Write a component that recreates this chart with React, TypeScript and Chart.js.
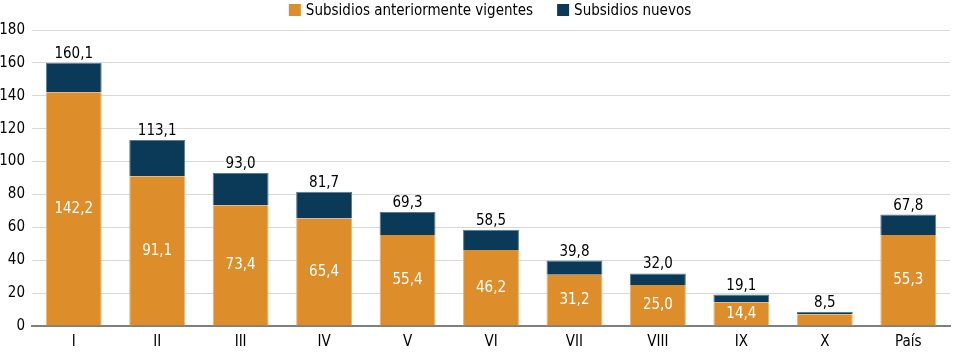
import React, { useEffect, useRef } from "react";
import { Chart, registerables } from "chart.js";

Chart.register(...registerables);

const categories = ["I", "II", "III", "IV", "V", "VI", "VII", "VIII", "IX", "X", "País"];
const previousSubsidies = [142.2, 91.1, 73.4, 65.4, 55.4, 46.2, 31.2, 25.0, 14.4, 7.2, 55.3];
const newSubsidies = [17.9, 22.0, 19.6, 16.3, 13.9, 12.3, 8.6, 7.0, 4.7, 1.3, 12.5];
const totals = [160.1, 113.1, 93.0, 81.7, 69.3, 58.5, 39.8, 32.0, 19.1, 8.5, 67.8];
const yTicks = [0, 20, 40, 60, 80, 100, 120, 140, 160, 180];
const seriesNames = ["Subsidios anteriormente vigentes", "Subsidios nuevos"];

const FONT = "'Liberation Sans Narrow', 'DejaVu Sans Condensed', sans-serif";
const ORANGE = "#DE8D2B";
const NAVY = "#0B3A58";
const FS = 14;

const fmt = (v: number) => v.toFixed(1).replace(".", ",");

const labelPlugin = {
  id: "barLabels",
  afterDatasetsDraw(chart: any) {
    const ctx = chart.ctx;
    const meta0 = chart.getDatasetMeta(0);
    const meta1 = chart.getDatasetMeta(1);
    ctx.save();
    ctx.font = `${FS + 1}px ${FONT}`;
    ctx.textAlign = "center";
    meta0.data.forEach((bar: any, i: number) => {
      if (previousSubsidies[i] >= 10) {
        ctx.fillStyle = "#ffffff";
        ctx.textBaseline = "middle";
        ctx.fillText(fmt(previousSubsidies[i]), bar.x, (bar.y + bar.base) / 2);
      }
    });
    meta1.data.forEach((bar: any, i: number) => {
      ctx.fillStyle = "#000000";
      ctx.textBaseline = "alphabetic";
      ctx.fillText(fmt(totals[i]), bar.x, bar.y - 5);
    });
    ctx.restore();
  },
  afterDraw(chart: any) {
    // legend
    const ctx = chart.ctx;
    ctx.save();
    ctx.font = `${FS + 1}px ${FONT}`;
    ctx.textBaseline = "middle";
    ctx.textAlign = "left";
    const colors = [ORANGE, NAVY];
    const box = 12;
    const gapBoxText = 5;
    const gapItems = 24;
    const widths = seriesNames.map((n) => box + gapBoxText + ctx.measureText(n).width);
    const total = widths[0] + widths[1] + gapItems;
    let x = (chart.width - total) / 2 + 12;
    const cy = 10;
    seriesNames.forEach((n, i) => {
      ctx.fillStyle = colors[i];
      ctx.fillRect(x, cy - box / 2, box, box);
      ctx.fillStyle = "#000";
      ctx.fillText(n, x + box + gapBoxText, cy + 1);
      x += widths[i] + gapItems;
    });
    ctx.restore();
  },
};

export default function App() {
  const ref = useRef<HTMLCanvasElement | null>(null);
  useEffect(() => {
    if (!ref.current) return;
    const chart = new Chart(ref.current, {
      type: "bar",
      data: {
        labels: categories,
        datasets: [
          {
            label: seriesNames[0],
            data: previousSubsidies,
            backgroundColor: ORANGE,
            borderColor: "#EDB377",
            borderWidth: { left: 1, right: 1, top: 0, bottom: 0 } as any,
            borderSkipped: false,
            categoryPercentage: 0.67,
            barPercentage: 1,
          },
          {
            label: seriesNames[1],
            data: newSubsidies,
            backgroundColor: NAVY,
            borderColor: "#5B7A92",
            borderWidth: 1,
            borderSkipped: "bottom",
            categoryPercentage: 0.67,
            barPercentage: 1,
          },
        ],
      },
      options: {
        animation: false,
        responsive: false,
        maintainAspectRatio: false,
        layout: { padding: { left: 0, right: 6, top: 30, bottom: 0 } },
        plugins: {
          legend: { display: false },
          tooltip: { enabled: false },
        },
        scales: {
          x: {
            stacked: true,
            grid: { display: false, drawTicks: false },
            border: { display: true, color: "#7f7f7f", width: 2 },
            ticks: { font: { family: FONT, size: FS + 1 }, color: "#000", padding: 7 },
            afterFit: (axis: any) => {
              axis.height = 28;
            },
          },
          y: {
            stacked: true,
            min: 0,
            max: 180,
            afterBuildTicks: (axis: any) => {
              axis.ticks = yTicks.map((v) => ({ value: v }));
            },
            afterFit: (axis: any) => {
              axis.width = 32;
            },
            grid: { color: "#d9d9d9", lineWidth: 1, drawTicks: false },
            border: { display: false },
            ticks: { font: { family: FONT, size: FS + 1 }, color: "#000", padding: 7 },
          },
        },
      },
      plugins: [labelPlugin],
    });
    return () => chart.destroy();
  }, []);
  return (
    <div style={{ position: "fixed", left: 0, top: 0, width: 956, height: 354, background: "#fff" }}>
      <canvas ref={ref} width={956} height={354} style={{ display: "block" }} />
    </div>
  );
}
